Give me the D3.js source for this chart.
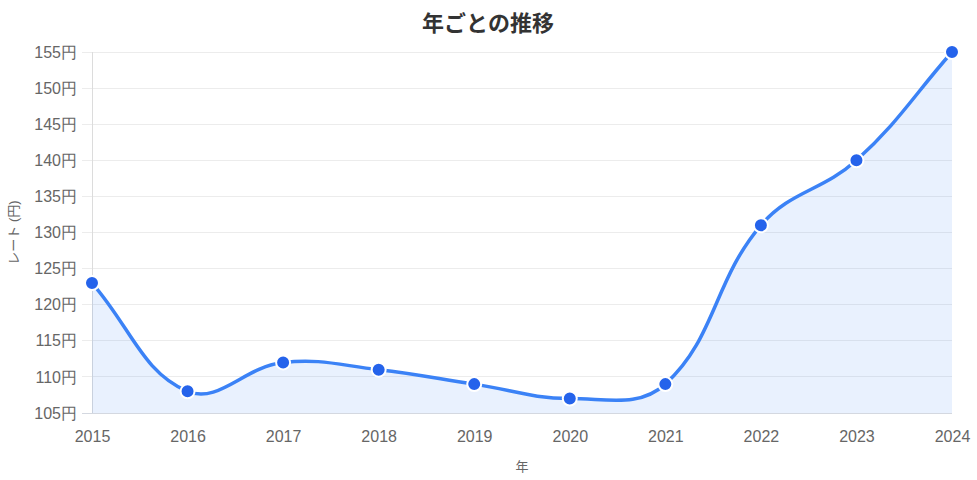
<!DOCTYPE html>
<html><head><meta charset="utf-8">
<script src="https://cdn.jsdelivr.net/npm/d3@7/dist/d3.min.js"></script>
<style>
body{margin:0;background:#fff;}
svg{display:block;font-family:"Liberation Sans",Arial,"Noto Sans CJK JP",sans-serif;}
</style></head>
<body><svg id="c" width="977" height="480"></svg>
<script>
const years = ["2015","2016","2017","2018","2019","2020","2021","2022","2023","2024"];
const rates = [123,108,112,111,109,107,109,131,140,155];
const yTicks = [105,110,115,120,125,130,135,140,145,150,155];
const title = "年ごとの推移";
const xTitle = "年";
const yTitle = "レート (円)";

const W=977,H=480;
const L=92,R=952,T=52,B=413;
const svg=d3.select("#c");
const x=d3.scalePoint().domain(years).range([L,R]);
const y=d3.scaleLinear().domain([105,155]).range([B,T]);

const gy=svg.append("g").attr("transform",`translate(${L},0)`);
gy.call(d3.axisLeft(y).tickValues(yTicks).tickSize(0).tickPadding(15).tickFormat(d=>d+"円"));
gy.select(".domain").remove();
gy.selectAll("text").attr("fill","#666").style("font-size","16px");
svg.append("g").selectAll("line").data(yTicks).join("line")
 .attr("x1",L-10).attr("x2",R).attr("y1",d=>y(d)).attr("y2",d=>y(d))
 .attr("stroke",d=>d===105?"#d4d8e0":"#ececec").attr("stroke-width",1).attr("shape-rendering","crispEdges");
svg.append("line").attr("x1",L).attr("x2",L).attr("y1",T).attr("y2",B).attr("stroke","#dcdcdc").attr("shape-rendering","crispEdges");

const gx=svg.append("g").attr("transform",`translate(0,${B})`);
gx.call(d3.axisBottom(x).tickSize(0).tickPadding(18));
gx.select(".domain").remove();
gx.selectAll("text").attr("fill","#666").style("font-size","16px");

// chart.js-like spline (tension 0.4)
const pts=years.map((d,i)=>({x:x(d),y:y(rates[i])}));
const t=0.4;
pts.forEach((p,i)=>{
  const prev=pts[Math.max(0,i-1)], next=pts[Math.min(pts.length-1,i+1)];
  const d01=Math.hypot(p.x-prev.x,p.y-prev.y), d12=Math.hypot(next.x-p.x,next.y-p.y);
  let s01=d01/(d01+d12), s12=d12/(d01+d12);
  if(isNaN(s01))s01=0; if(isNaN(s12))s12=0;
  const fa=t*s01, fb=t*s12;
  p.cpx0=p.x-fa*(next.x-prev.x); p.cpy0=p.y-fa*(next.y-prev.y);
  p.cpx1=p.x+fb*(next.x-prev.x); p.cpy1=p.y+fb*(next.y-prev.y);
  const cl=(v,a,b)=>Math.max(a,Math.min(b,v));
  p.cpx0=cl(p.cpx0,L,R);p.cpx1=cl(p.cpx1,L,R);p.cpy0=cl(p.cpy0,T,B);p.cpy1=cl(p.cpy1,T,B);
});
function linePath(){
  const p=d3.path();
  p.moveTo(pts[0].x,pts[0].y);
  for(let i=1;i<pts.length;i++){const a=pts[i-1],b=pts[i];p.bezierCurveTo(a.cpx1,a.cpy1,b.cpx0,b.cpy0,b.x,b.y);}
  return p.toString();
}
const lp=linePath();
svg.append("path").attr("d",lp+`L${R},${B}L${L},${B}Z`).attr("fill","rgba(59,130,246,0.11)");
svg.append("path").attr("d",lp).attr("fill","none").attr("stroke","#3b82f6").attr("stroke-width",3.5);
svg.append("g").selectAll("circle").data(pts).join("circle")
 .attr("cx",d=>d.x).attr("cy",d=>d.y).attr("r",7).attr("fill","#2563eb").attr("stroke","#fff").attr("stroke-width",2);

svg.append("text").attr("x",488).attr("y",31).attr("text-anchor","middle").attr("fill","#333")
 .style("font-size","22px").style("font-weight","bold").style("font-family","'Noto Sans CJK JP',sans-serif").text(title);
svg.append("text").attr("x",(L+R)/2).attr("y",471).attr("text-anchor","middle").attr("fill","#666").style("font-size","13px").text(xTitle);
svg.append("text").attr("transform",`translate(18,${(T+B)/2}) rotate(-90)`).attr("text-anchor","middle").attr("fill","#666").style("font-size","13px").text(yTitle);
</script></body></html>
